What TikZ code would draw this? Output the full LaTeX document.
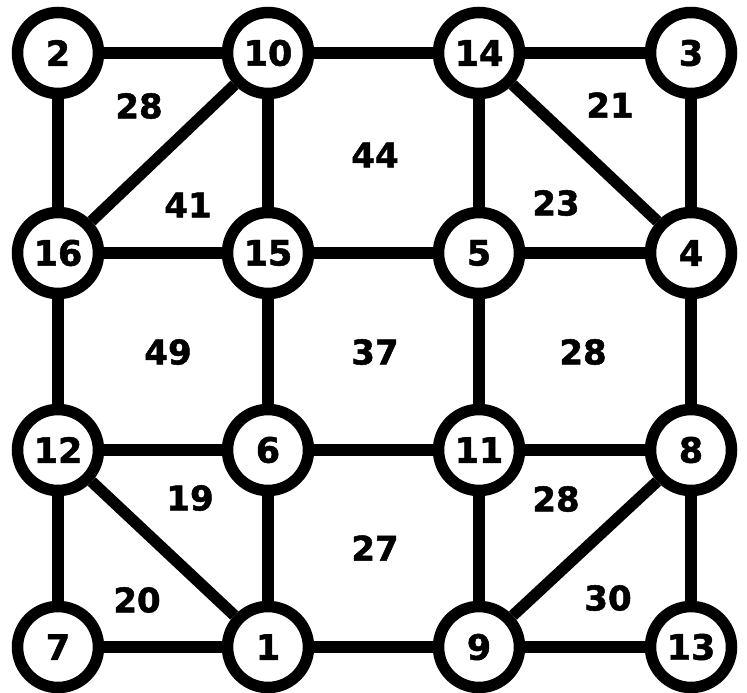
\documentclass[tikz,border=0pt]{standalone}
\usepackage{fontspec}
\setmainfont{DejaVu Sans}
\newfontfamily\heavyfont[FakeBold=1.4]{DejaVu Sans Bold}
\usepackage{xcolor}
\usepackage{tikz}
\definecolor{ink}{HTML}{000000}

\begin{document}
\begin{tikzpicture}[x=1pt, y=-1pt,
  vertex/.style={circle, draw=ink, fill=white, line width=11.5pt, minimum size=81pt, inner sep=0pt, font=\fontsize{35}{35}\heavyfont},
  face/.style={font=\fontsize{34}{34}\heavyfont, text=ink},
  edge/.style={draw=ink, line width=11.5pt}]
\useasboundingbox (0,0) rectangle (747,693);
% vertices
\node[vertex] (v2)  at (58,53)   {2};
\node[vertex] (v10) at (268,53)  {10};
\node[vertex] (v14) at (479,53)  {14};
\node[vertex] (v3)  at (691,53)  {3};
\node[vertex] (v16) at (58,253)  {16};
\node[vertex] (v15) at (268,253) {15};
\node[vertex] (v5)  at (479,253) {5};
\node[vertex] (v4)  at (691,253) {4};
\node[vertex] (v12) at (58,450)  {12};
\node[vertex] (v6)  at (268,450) {6};
\node[vertex] (v11) at (479,450) {11};
\node[vertex] (v8)  at (691,450) {8};
\node[vertex] (v7)  at (58,647)  {7};
\node[vertex] (v1)  at (268,647) {1};
\node[vertex] (v9)  at (479,647) {9};
\node[vertex] (v13) at (691,647) {13};
% edges
\foreach \a/\b in {v2/v10, v10/v14, v14/v3, v2/v16, v10/v15, v14/v5, v3/v4,
                   v10/v16, v14/v4, v16/v15, v15/v5, v5/v4,
                   v16/v12, v15/v6, v5/v11, v4/v8, v12/v6, v6/v11, v11/v8,
                   v12/v7, v6/v1, v11/v9, v8/v13, v12/v1, v8/v9,
                   v7/v1, v1/v9, v9/v13}
  \draw[edge] (\a) -- (\b);
% face weights
\node[face] (f1)  at (139,106) {28};
\node[face] (f2)  at (188,205) {41};
\node[face] (f3)  at (375,155) {44};
\node[face] (f4)  at (610,105) {21};
\node[face] (f5)  at (556,203) {23};
\node[face] (f6)  at (168,352) {49};
\node[face] (f7)  at (375,352) {37};
\node[face] (f8)  at (583,352) {28};
\node[face] (f9)  at (190,498) {19};
\node[face] (f10) at (375,548) {27};
\node[face] (f11) at (556,499) {28};
\node[face] (f12) at (137,600) {20};
\node[face] (f13) at (608,598) {30};
\end{tikzpicture}
\end{document}
